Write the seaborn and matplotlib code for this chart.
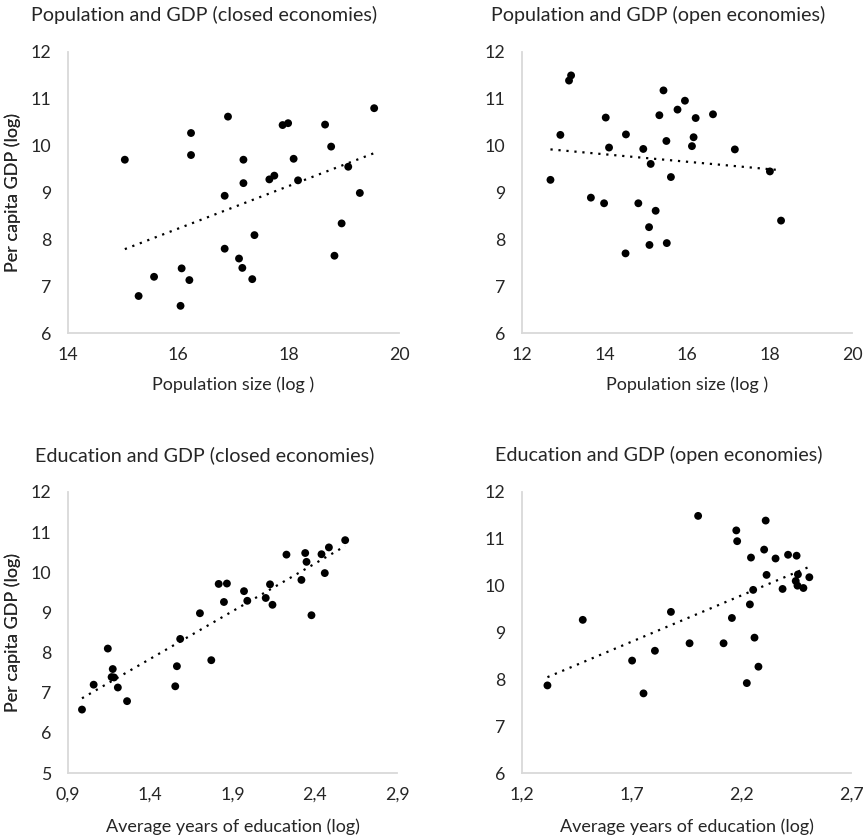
import numpy as np
import pandas as pd
import matplotlib
matplotlib.use("Agg")
import matplotlib.pyplot as plt
import seaborn as sns

# population size (log) vs per capita GDP (log), closed economies
pop_closed_x = [15.03, 15.28, 15.56, 16.06, 16.04, 16.20, 16.23, 16.23, 16.84, 16.84,
                16.90, 17.10, 17.16, 17.18, 17.18, 17.34, 17.38, 17.65, 17.74, 17.89,
                17.99, 18.09, 18.17, 18.66, 18.77, 18.83, 18.96, 19.08, 19.29, 19.55]
pop_closed_y = [9.70, 6.79, 7.20, 7.38, 6.58, 7.13, 10.27, 9.80, 8.93, 7.80,
                10.62, 7.59, 7.39, 9.70, 9.20, 7.15, 8.09, 9.28, 9.36, 10.44,
                10.48, 9.72, 9.26, 10.45, 9.98, 7.65, 8.34, 9.55, 8.99, 10.80]

# open economies
pop_open_x = [12.69, 12.93, 13.14, 13.19, 13.67, 13.99, 14.03, 14.11, 14.51, 14.52,
              14.82, 14.94, 15.08, 15.09, 15.12, 15.24, 15.33, 15.43, 15.50, 15.51,
              15.61, 15.77, 15.95, 16.12, 16.16, 16.21, 16.63, 17.16, 18.01, 18.28]
pop_open_y = [9.27, 10.23, 11.39, 11.50, 8.89, 8.77, 10.60, 9.96, 7.70, 10.24,
              8.77, 9.93, 8.26, 7.88, 9.61, 8.61, 10.65, 11.18, 10.10, 7.92,
              9.33, 10.77, 10.96, 9.99, 10.18, 10.59, 10.67, 9.92, 9.45, 8.40]

# average years of education (log), closed economies
edu_closed_x = [0.985, 1.056, 1.142, 1.172, 1.165, 1.180, 1.203, 1.259, 1.552, 1.562,
                1.582, 1.702, 1.771, 1.816, 1.848, 1.866, 1.970, 1.990, 2.102, 2.128,
                2.143, 2.228, 2.319, 2.342, 2.350, 2.380, 2.441, 2.461, 2.486, 2.585]
edu_closed_y = [6.58, 7.20, 8.10, 7.59, 7.39, 7.38, 7.13, 6.79, 7.16, 7.66,
                8.34, 8.98, 7.81, 9.71, 9.26, 9.72, 9.53, 9.29, 9.36, 9.70,
                9.19, 10.44, 9.81, 10.48, 10.26, 8.93, 10.45, 9.98, 10.62, 10.80]

# open economies
edu_open_x = [1.316, 1.477, 1.702, 1.754, 1.806, 1.879, 1.964, 2.003, 2.119, 2.157,
              2.177, 2.181, 2.225, 2.239, 2.244, 2.254, 2.260, 2.278, 2.304, 2.311,
              2.315, 2.356, 2.388, 2.413, 2.452, 2.448, 2.458, 2.456, 2.483, 2.510]
edu_open_y = [7.87, 9.27, 8.40, 7.70, 8.61, 9.44, 8.77, 11.49, 8.77, 9.31,
              11.18, 10.95, 7.92, 9.60, 10.60, 9.91, 8.89, 8.27, 10.77, 11.39,
              10.23, 10.58, 9.93, 10.66, 10.64, 10.10, 10.24, 10.00, 9.95, 10.18]

pop_ticks_closed = [14, 16, 18, 20]
pop_ticks_open = [12, 14, 16, 18, 20]
edu_ticks_closed = ["0,9", "1,4", "1,9", "2,4", "2,9"]
edu_ticks_open = ["1,2", "1,7", "2,2", "2,7"]

sns.set_style("white")
plt.rcParams['font.family'] = ['Lato', 'DejaVu Sans']
TXT = '#262626'
W, H = 866, 839

fig = plt.figure(figsize=(W / 100, H / 100), dpi=100)


def panel(left, top, right, bottom, x, y, xticks, xlabels, ylim, title, tx, ty, xlabel, xl_y):
    ax = fig.add_axes([left / W, 1 - bottom / H, (right - left) / W, (bottom - top) / H])
    df = pd.DataFrame({'x': x, 'y': y})
    sns.regplot(data=df, x='x', y='y', ax=ax, ci=None,
                scatter_kws=dict(s=32, color='black', edgecolor='none', alpha=1),
                line_kws=dict(color='black', lw=1.6, linestyle=(0, (1, 2.6))))
    ticks = [float(t.replace(',', '.')) if isinstance(t, str) else t for t in xticks]
    ax.set_xlim(ticks[0], ticks[-1])
    ax.set_ylim(*ylim)
    ax.set_xticks(ticks)
    ax.set_xticklabels(xlabels)
    ax.set_yticks(range(ylim[0], ylim[1] + 1))
    ax.tick_params(length=0, labelsize=12.8, colors=TXT)
    ax.tick_params(axis='y', pad=12)
    ax.tick_params(axis='x', pad=10)
    sns.despine(ax=ax)
    for s in ['left', 'bottom']:
        ax.spines[s].set_color('#d9d9d9')
        ax.spines[s].set_linewidth(1.3)
    ax.set_ylabel('Per capita GDP (log)', fontsize=13, color=TXT)
    ax.yaxis.set_label_coords((13 - left) / (right - left), 0.5)
    ax.yaxis.label.set_va('center')
    ax.set_xlabel(xlabel, fontsize=13, color=TXT)
    ax.xaxis.set_label_coords(0.5, (bottom - xl_y) / (bottom - top))
    ax.xaxis.label.set_va('center')
    fig.text(tx / W, 1 - ty / H, title, fontsize=14.2, color=TXT, ha='left', va='center')
    return ax


panel(68, 52, 399, 333, pop_closed_x, pop_closed_y, pop_ticks_closed, [str(t) for t in pop_ticks_closed],
      (6, 12), 'Population and GDP (closed economies)', 31, 15, 'Population size (log )', 385)
panel(522, 52, 852, 333, pop_open_x, pop_open_y, pop_ticks_open, [str(t) for t in pop_ticks_open],
      (6, 12), 'Population and GDP (open economies)', 491, 15, 'Population size (log )', 385)
panel(68, 492, 397, 773, edu_closed_x, edu_closed_y, edu_ticks_closed, edu_ticks_closed,
      (5, 12), 'Education and GDP (closed economies)', 35, 455, 'Average years of education (log)', 827)
panel(522, 492, 851, 773, edu_open_x, edu_open_y, edu_ticks_open, edu_ticks_open,
      (6, 12), 'Education and GDP (open economies)', 495, 455, 'Average years of education (log)', 827)

fig.savefig('out.png', dpi=100)
